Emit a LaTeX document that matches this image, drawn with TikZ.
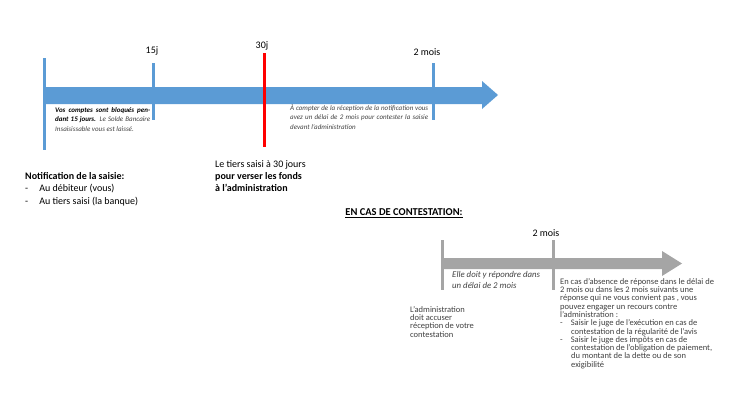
\documentclass[tikz,border=0pt]{standalone}
\usepackage{fontspec}
\setmainfont{Carlito}
\begin{document}
\begin{tikzpicture}[x=1pt,y=-1pt,
  lbl/.style={font=\fontsize{10}{12}\selectfont,inner sep=0pt},
  small/.style={font=\fontsize{7}{9.6}\selectfont\itshape,inner sep=0pt,align=justify,text width=#1},
  txt/.style={inner sep=0pt,anchor=north west,align=left}]
\definecolor{tblue}{RGB}{91,155,213}
\definecolor{tgray}{RGB}{165,165,165}
\definecolor{ttext}{RGB}{64,64,64}
\useasboundingbox (0,0) rectangle (730,410);
% top arrow
\fill[tblue] (44,87) -- (482,87) -- (482,81) -- (498,95) -- (482,109) -- (482,104) -- (44,104) -- cycle;
\fill[tblue] (42.5,58) rectangle (45.5,150);
\fill[tblue] (151.5,63) rectangle (154.5,120);
\fill[tblue] (431.5,63) rectangle (434.5,120);
\fill[red] (262.5,53) rectangle (265.5,147);
\node[lbl] (l15) at (152,51) {15j};
\node[lbl] (l30) at (262,46) {30j};
\node[lbl] (l2m) at (427,52) {2 mois};
\node[small=95pt,anchor=north west,text=black] (t1) at (55,107) {\textbf{Vos comptes sont bloqués pendant 15 jours.} {\color{ttext}Le Solde Bancaire Insaisissable vous est laissé.}};
\node[small=138pt,anchor=north west,text=ttext] (t2) at (290,104) {À compter de la réception de la notification vous avez un délai de 2 mois pour contester la saisie devant l’administration};
\node[txt,font=\fontsize{10}{12.2}\selectfont] (t3) at (215,160) {Le tiers saisi à 30 jours\\\textbf{pour verser les fonds}\\\textbf{à l’administration}};
\node[txt,font=\fontsize{10}{12.6}\selectfont] (t4) at (25,172) {\textbf{Notification de la saisie:}\\-\hspace{11pt}Au débiteur (vous)\\-\hspace{11pt}Au tiers saisi (la banque)};
\node[font=\fontsize{10.5}{12}\selectfont\bfseries,inner sep=0pt] (t5) at (404,213) {\underline{EN CAS DE CONTESTATION:}};
% bottom arrow
\fill[tgray] (442,258) -- (662,258) -- (662,251) -- (682,263.5) -- (662,276) -- (662,269) -- (442,269) -- cycle;
\fill[tgray] (440.5,240) rectangle (443.5,290);
\fill[tgray] (551.5,240) rectangle (554.5,290);
\node[lbl] (b2m) at (546,233) {2 mois};
\node[txt,font=\fontsize{8.8}{11.5}\selectfont\itshape,text=ttext] (b1) at (452,271) {Elle doit y répondre dans\\un délai de 2 mois};
\node[txt,font=\fontsize{8.5}{8.3}\selectfont,text=ttext] (b2) at (410,306) {L’administration\\doit accuser\\réception de votre\\contestation};
\node[txt,font=\fontsize{8.5}{8.3}\selectfont,text=ttext] (b3) at (560,278) {En cas d’absence de réponse dans le délai de\\2 mois ou dans les 2 mois suivants une\\réponse qui ne vous convient pas , vous\\pouvez engager un recours contre\\l’administration :\\-\hspace{8pt}Saisir le juge de l’exécution en cas de\\\hspace{11pt}contestation de la régularité de l’avis\\-\hspace{8pt}Saisir le juge des impôts en cas de\\\hspace{11pt}contestation de l’obligation de paiement,\\\hspace{11pt}du montant de la dette ou de son\\\hspace{11pt}exigibilité};
\end{tikzpicture}
\end{document}
